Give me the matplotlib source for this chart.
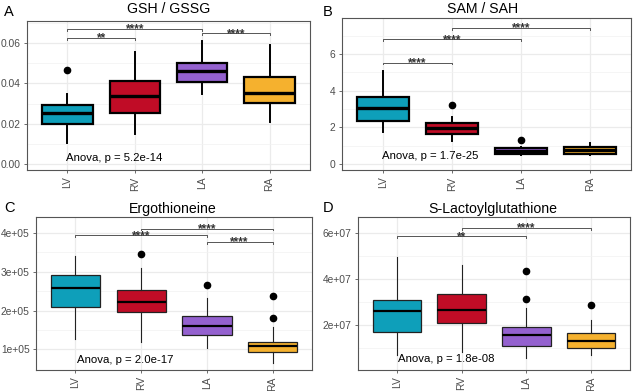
import matplotlib
matplotlib.use("Agg")
import matplotlib.pyplot as plt
from matplotlib.ticker import FixedLocator, FuncFormatter

plt.rcParams['font.family'] = ['Liberation Sans', 'DejaVu Sans']

groups = ["LV", "RV", "LA", "RA"]
colors = ["#0E9FBA", "#C00C26", "#9461CF", "#F5B12E"]

# Panel A: GSH / GSSG
a_q1 = [0.0196, 0.0251, 0.0406, 0.0302]
a_med = [0.0254, 0.0336, 0.0462, 0.0350]
a_q3 = [0.0292, 0.0412, 0.0503, 0.0430]
a_lo = [0.0102, 0.0147, 0.0345, 0.0206]
a_hi = [0.0345, 0.0556, 0.0610, 0.0592]
a_fl = [[0.0468], [], [], []]

# Panel B: SAM / SAH
b_q1 = [2.37, 1.64, 0.55, 0.55]
b_med = [3.05, 1.99, 0.73, 0.75]
b_q3 = [3.68, 2.26, 0.89, 0.93]
b_lo = [1.77, 1.28, 0.49, 0.49]
b_hi = [5.09, 2.55, 0.95, 1.17]
b_fl = [[], [3.23], [1.31], []]

# Panel C: Ergothioneine
c_q1 = [2.08e5, 1.97e5, 1.37e5, 0.94e5]
c_med = [2.58e5, 2.23e5, 1.60e5, 1.10e5]
c_q3 = [2.92e5, 2.54e5, 1.86e5, 1.20e5]
c_lo = [1.28e5, 1.18e5, 1.03e5, 0.64e5]
c_hi = [3.41e5, 3.10e5, 2.33e5, 1.57e5]
c_fl = [[], [3.47e5], [2.67e5], [2.37e5, 1.82e5]]

# Panel D: S-Lactoylglutathione
d_q1 = [1.71e7, 2.07e7, 1.10e7, 0.99e7]
d_med = [2.61e7, 2.67e7, 1.59e7, 1.30e7]
d_q3 = [3.07e7, 3.37e7, 1.90e7, 1.64e7]
d_lo = [0.70e7, 0.85e7, 0.55e7, 0.70e7]
d_hi = [4.95e7, 4.60e7, 2.76e7, 2.20e7]
d_fl = [[], [], [4.34e7, 3.15e7], [2.85e7]]

# significance brackets: (group i, group j, y, label)
a_sig = [(0, 1, 0.0627, "**"), (0, 2, 0.0671, "****"), (2, 3, 0.0650, "****")]
b_sig = [(0, 1, 5.54, "****"), (0, 2, 6.82, "****"), (1, 3, 7.44, "****")]
c_sig = [(0, 2, 3.94e5, "****"), (1, 3, 4.11e5, "****"), (2, 3, 3.77e5, "****")]
d_sig = [(0, 2, 5.86e7, "**"), (1, 3, 6.22e7, "****")]

titles = ["GSH / GSSG", "SAM / SAH", "Ergothioneine", "S-Lactoylglutathione"]
anova = ["Anova, p = 5.2e-14", "Anova, p = 1.7e-25", "Anova, p = 2.0e-17", "Anova, p = 1.8e-08"]
letters = ["A", "B", "C", "D"]

W, H = 634, 391
fig = plt.figure(figsize=(W / 100, H / 100), dpi=100)

def px_axes(l, r, t, b):
    return fig.add_axes([l / W, (H - b) / H, (r - l) / W, (b - t) / H])

panels = [
    dict(box=(27, 310, 21, 170), data=(a_q1, a_med, a_q3, a_lo, a_hi, a_fl), sig=a_sig,
         ylim=(-0.003, 0.071), major=[0.0, 0.02, 0.04, 0.06], minor=[0.01, 0.03, 0.05, 0.07],
         fmt=lambda v, p: f"{v:.2f}", thick=True, anova_xy=(0.98, 0.0028), lab=(4, 12),
         tpos=(169, 13.3)),
    dict(box=(342, 631, 18, 170), data=(b_q1, b_med, b_q3, b_lo, b_hi, b_fl), sig=b_sig,
         ylim=(-0.33, 7.97), major=[0, 2, 4, 6], minor=[1, 3, 5, 7],
         fmt=lambda v, p: f"{v:.0f}", thick=True, anova_xy=(0.98, 0.42), lab=(323, 12),
         tpos=(483, 12.9)),
    dict(box=(36, 312, 217, 370), data=(c_q1, c_med, c_q3, c_lo, c_hi, c_fl), sig=c_sig,
         ylim=(0.47e5, 4.41e5), major=[1e5, 2e5, 3e5, 4e5], minor=[1.5e5, 2.5e5, 3.5e5],
         fmt=lambda v, p: f"{int(round(v/1e5))}e+05", thick=False, anova_xy=(1.02, 0.73e5), lab=(4, 208),
         tpos=(173, 213.3)),
    dict(box=(358, 630, 217, 370), data=(d_q1, d_med, d_q3, d_lo, d_hi, d_fl), sig=d_sig,
         ylim=(0.05e7, 6.69e7), major=[2e7, 4e7, 6e7], minor=[1e7, 3e7, 5e7],
         fmt=lambda v, p: f"{int(round(v/1e7))}e+07", thick=False, anova_xy=(1.02, 0.51e7), lab=(323, 208),
         tpos=(493, 213.3)),
]

for k, pnl in enumerate(panels):
    ax = px_axes(*pnl["box"])
    q1, med, q3, lo, hi, fl = pnl["data"]
    stats = []
    for i in range(4):
        stats.append(dict(med=med[i], q1=q1[i], q3=q3[i], whislo=lo[i], whishi=hi[i],
                          fliers=fl[i], label=groups[i]))
    if pnl["thick"]:
        blw, mlw, wlw, ec = 1.6, 2.4, 1.4, "black"
    else:
        blw, mlw, wlw, ec = 0.9, 1.6, 0.8, "#222222"
    bp = ax.bxp(stats, positions=[1, 2, 3, 4], widths=0.75, patch_artist=True,
                showcaps=False,
                boxprops=dict(linewidth=blw, edgecolor=ec),
                medianprops=dict(color="black", linewidth=mlw),
                whiskerprops=dict(color=ec, linewidth=wlw),
                flierprops=dict(marker="o", markerfacecolor="black", markeredgecolor="black",
                                markersize=4.5, linestyle="none"),
                zorder=3)
    for patch, c in zip(bp["boxes"], colors):
        patch.set_facecolor(c)
    ax.set_xlim(0.4, 4.6)
    ax.set_ylim(*pnl["ylim"])
    ax.yaxis.set_major_locator(FixedLocator(pnl["major"]))
    ax.yaxis.set_minor_locator(FixedLocator(pnl["minor"]))
    ax.yaxis.set_major_formatter(FuncFormatter(pnl["fmt"]))
    ax.set_xticks([1, 2, 3, 4])
    ax.set_xticklabels(groups, rotation=90)
    ax.grid(True, which="major", color="#EBEBEB", linewidth=0.9, zorder=0)
    ax.grid(True, which="minor", axis="y", color="#F2F2F2", linewidth=0.5, zorder=0)
    ax.set_axisbelow(True)
    for s in ax.spines.values():
        s.set_color("#555555")
        s.set_linewidth(0.8)
    ax.tick_params(axis="both", which="major", length=2.5, width=0.6, color="#555555",
                   labelsize=7.4, labelcolor="#4D4D4D", pad=2)
    ax.tick_params(axis="y", which="minor", length=0)
    fig.text(pnl["tpos"][0] / W, 1 - pnl["tpos"][1] / H, titles[k], fontsize=10.2,
             ha="center", va="baseline", color="black")
    yr = pnl["ylim"][1] - pnl["ylim"][0]
    for (i, j, y, lab) in pnl["sig"]:
        t = yr * 0.012
        ax.plot([i + 1, i + 1, j + 1, j + 1], [y - t, y, y, y - t], color="#555555",
                linewidth=0.7, zorder=4)
        ax.annotate(lab, xy=((i + j) / 2 + 1, y), xytext=(0, -2.6), textcoords="offset points",
                    ha="center", va="baseline", fontsize=8.6, color="#333333",
                    fontweight="bold", zorder=5)
    ax.text(pnl["anova_xy"][0], pnl["anova_xy"][1], anova[k], ha="left", va="center",
            fontsize=8.2, color="black", zorder=5)
    fig.text(pnl["lab"][0] / W, 1 - pnl["lab"][1] / H, letters[k], fontsize=10.5,
             ha="left", va="center")

fig.savefig("out.png", dpi=100)
